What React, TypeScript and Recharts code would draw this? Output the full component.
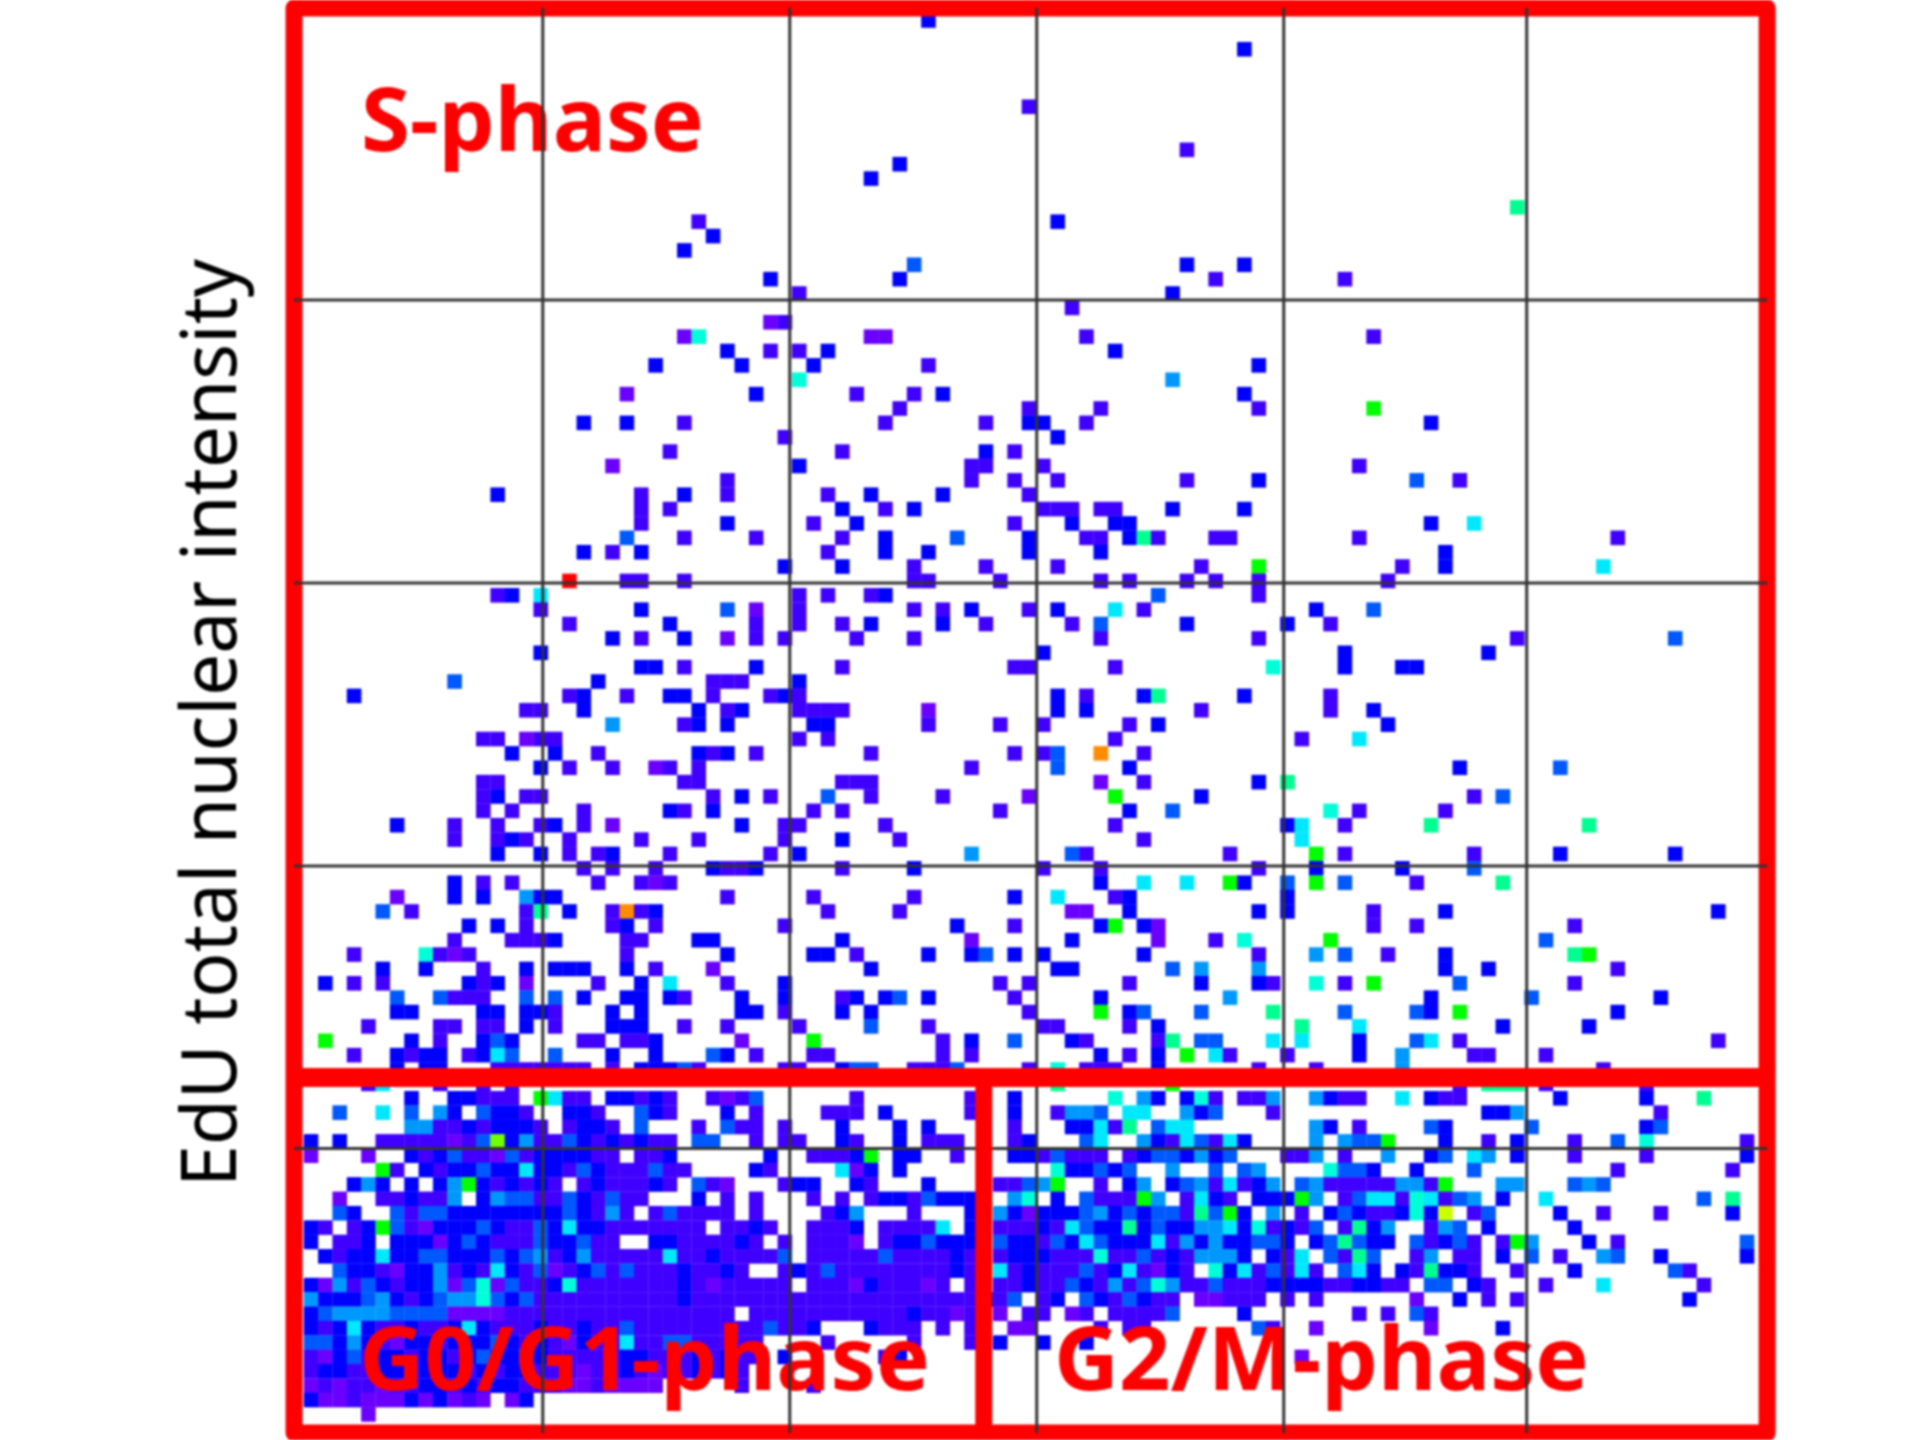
import React from 'react';
import { ScatterChart, Scatter, XAxis, YAxis, ReferenceLine, ReferenceArea } from 'recharts';

// Colour levels of the 2D histogram, from low count to high count.
const levelColors: Record<string, string> = {
  b: '#0000ff', p: '#4000ff', v: '#6a00ff', a: '#0058ff', m: '#0098ff', c: '#00e8ff',
  t: '#00ffd8', n: '#00ff90', g: '#00ff00', l: '#70ff00', y: '#ccff00', o: '#ff8c00', r: '#ff0000',
};

// Sparse rows: [row, "column+level ..."]
const upperRows: [number, string][] = [
  [0, '43b'], [2, '65b'], [6, '50p'], [9, '61p'], [10, '41b'], [11, '39b'], [13, '84n'], [14, '27p 52b'],
  [15, '28b'], [16, '26b'], [17, '42a 61b 65b'], [18, '32b 41b 63p 72p'], [19, '34p 60b'], [20, '53p'],
  [21, '32v 33p'], [22, '26v 27t 39v 40v 54p 74p'], [23, '29b 32p 34p 36b 56b'], [24, '24b 30b 35b 43p 66b'],
  [25, '34t 60m'], [26, '22v 31b 38p 42p 44b 65b'], [27, '41p 50p 55p 66p 74g'],
  [28, '19b 22b 26p 40p 47p 50b 51b 54p 78b'], [29, '33p 52b'], [30, '25p 37p 47b 49p'],
  [31, '21v 34b 46p 47p 51p 73p'], [32, '29p 46p 49p 52p 61p 66b 77a 80p'],
  [33, '13b 23p 26b 29p 36p 39b 44b 50p'], [34, '23p 25p 37b 40p 42b 51p 52p 53p 55p 56p 60b 65b'],
  [35, '23p 29b 35p 38b 49p 53b 56b 57b 78b 81c'],
  [36, '22a 26p 31p 37p 40b 45a 50b 54p 55p 57b 58n 59p 63p 64p 73p 91p'],
  [37, '19b 21p 23b 36p 40b 43b 50b 55b 79b'], [38, '33b 37b 42p 47p 52p 62p 66g 76p 79b 90c'],
  [39, '18r 22p 23p 26p 42p 43p 48p 55p 57p 61p 63p 66p 75p'], [40, '13p 14b 16c 34p 36p 39p 40b 59a 66p'],
  [41, '16p 23b 29a 31v 34p 42p 44p 46b 50p 52b 56c 58p 70b 74a'],
  [42, '18p 25b 31p 34p 37p 39b 44b 47p 53p 55a 61b 68b 71p'],
  [43, '21b 23p 26b 29v 31p 33p 38p 42p 55p 66p 84p 95a'], [44, '16b 51b 72b 82b'],
  [45, '23b 24b 26p 31b 37p 49p 50p 56p 67t 72b 76b 77b'], [46, '10a 20b 28p 29p 30p 34b'],
  [47, '3b 18p 19b 22p 25b 26b 28p 32p 33b 34p 52b 54p 58b 59n 65b 71p'],
  [48, '15p 16p 19b 27b 29p 30b 34p 35p 36p 37p 43v 52b 54b 62p 71p 74b'],
  [49, '21m 26p 27b 29b 35b 36b 43p 48p 51p 57p 59b 75b'], [50, '12p 13p 15v 16p 17p 34p 36p 56p 69p 73c'],
  [51, '14b 17b 20p 27b 28p 29b 31p 39p 49p 51p 52a 55o 58p'],
  [52, '16b 18p 21p 24v 25p 27p 46p 52a 57b 80b 87a'], [53, '12p 13p 26p 27p 37p 38p 39p 55v 58p 66b 68n'],
  [54, '12p 13b 15p 16p 28p 30b 32p 36a 39p 44p 50v 56g 62b 81p 83a'],
  [55, '12p 14p 19p 25b 26p 28b 35p 37p 48p 57b 60a 71t 73p 79p'],
  [56, '6b 10p 13p 16p 17b 19p 21v 30b 33p 34p 40p 56p 68b 69c 72p 78n 89n'],
  [57, '10p 13p 14b 15p 18p 23p 27p 33p 37b 41p 58p 69c'],
  [58, '13b 16b 18p 20p 21b 25p 32p 34b 46m 53a 54p 64p 70g 72p 81p 87b 95b'],
  [59, '19p 21p 24p 28b 29p 30p 31b 37p 42b 51p 55p 66p 70b 76b 81a'],
  [60, '10b 12p 14p 20p 23p 24v 25p 55b 58c 61c 64g 65b 68a 70g 72a 77p 83n'],
  [61, '6v 10b 12b 15m 16b 17b 29p 35p 42p 49b 52c 56p 57b 68b'],
  [62, '5a 7p 15p 16n 18b 21p 22o 23p 24b 36p 41p 53v 54v 57b 66b 68b 74p 79b 98b'],
  [63, '11b 13b 15p 21p 22b 24p 33p 45b 49p 55b 56g 58b 59v 74p 77p 88p'],
  [64, '10p 14p 15p 16p 17b 22p 23p 27b 28b 37b 46v 53b 59v 63p 65t 71g 86a'],
  [65, '3p 8t 9p 10v 11p 22p 29b 35b 36b 38p 43b 46b 47a 49b 51b 58b 66p 70m 72a 75p 79b 88n 89g'],
  [66, '5b 8b 12p 15b 17b 18b 19b 22b 24p 28v 39b 52b 53b 60a 62m 66m 79b 82b 91p'],
  [67, '1b 3p 5p 11b 12p 13b 15v 20p 23b 25c 29p 33b 48p 50p 57p 62b 66b 67p 70t 72p 74g 80a 88p'],
  [68, '6a 9a 10p 11p 12p 15a 17a 19b 22b 23b 25b 26p 30b 33b 37p 38b 40b 41a 43b 49p 55b 64m 78b 85a 94b'],
  [69, '6b 7b 12b 13b 15b 16b 17p 21b 23b 30b 31b 33p 37b 39b 50p 55g 57b 58a 62a 67n 72a 77a 78b 80g 91b'],
  [70, '4p 9p 10p 12p 13p 15b 17p 21b 22b 23b 26p 29p 34p 39a 43p 51p 52p 57p 59b 69n 73c 83b 89b'],
  [71, '1g 7b 9p 12b 13a 14b 19p 20p 22p 23p 24b 30v 35g 44p 46b 49a 53b 54p 59p 60n 62a 63a 67c 69c 73b 77a 78c 80p 98p'],
  [72, '3p 6b 7p 8b 9b 11p 12b 13c 14a 17a 21b 24b 28a 29b 31p 35p 36p 44p 46p 55b 57p 59b 61g 63c 64p 68p 73b 76m 81p 82p 86p'],
  [73, '6b 8b 9b 13p 14p 15p 16p 17p 18p 19p 21p 23b 24b 25b 26a 27p 33p 34p 37b 38a 39a 42p 43p 44p 45a 50p 52t 54p 55p 56p 59b 66p 70p 76m 90p'],
  [74, '4p 5c 9p 12p 14p 52n 60g 80p 82n 83n 84n 86p 93p'],
];

// Sparse far-right part of the lower block
const farRightRows: [number, string][] = [
  [75, '76c 78b 79p 80p 87b 93b 97n'], [76, '82b 83b 84m 94p'], [77, '78a 79b 85a 93b 94a'],
  [78, '75g 79b 82p 84b 88p 91a 93t 100p'], [79, '75m 78b 79a 81c 82m 84b 88p 93p 100b'],
  [80, '77b 81a 91p 99p'], [81, '76m 77m 78p 79g 83m 84m 88a 89m 90a'],
  [82, '75c 76p 77t 78c 79p 80a 81m 83b 86c 97a 99n'], [83, '75p 76b 77t 78b 79y 81p 82a 87b 90p 94p 99b'],
  [84, '75m 78p 79m 80a 82b 88b'], [85, '75b 77a 78p 79b 80a 81p 83p 84g 85m 89b 91p 100a'],
  [86, '77p 78m 80p 81p 83b 85a 87p 90m 91a 94b 100b'], [87, '76b 77p 78n 79b 80b 81p 84p 88b 95a 96p'],
  [88, '75p 76p 78a 79a 81b 82p 86p 90c 97p'], [89, '77v 80b 82p 84p 96b'], [90, '75p 77a 78p'],
  [91, '78v 83b'], [93, '69v'],
];

// Dense rows 75..97, columns 0..46, one character per cell
const lowerLeftRows: string[] = [
  '.......b..bbppp.gcpp.bbpbp..pvpa......p.......p',
  '..a..c.a.mb.abbp..bbp..abp...b.p....ppp.b.....p',
  '.......mmppbpbbbp.pbbp.a...p.app.p...b...b.b...',
  'b.b..pppppvpalbmppabpbpbpp.aa..p.pp..bp..b.ppp.',
  'v...v..bpbappvapbbbbpp.ppb......b..pppbg.bb..p.',
  '.....gp.bpbbabbcbbpabpppapp....bp....cvb.b.....',
  '...bmb.b.bmgbpbpbp.pbpppbp.apv...pbb..bp...b...',
  '..v..ppbppm.bmaappabpapp...b.p.p...p.p.pbbpabbb',
  '..ab..apaabbbbbbbbabpmp.papppp.p....pbm...p...b',
  'bp.pbgapvbbbabppabcbbppppppp.ppbp..pppb.ppppc.b',
  'b.ppb.bbbvbabpppabbapp..bbppppbp.p.pppv.pbbabbb',
  '.bpbbcbbaabbbabampbmppppp' + 'cppbppppa.pppppappppbp',
  '..abbpvbbmpbpcbpavpbapapppbppbp..pbpappppppppbp',
  'bvmpabpbbmvatvappbtpppppppbpvppppp.pppvbpppvp.p',
  'mbbbambpbammtabappppppppppbppppppppppppppppppppb',
  'bammmmaaaavvvvpppppppppppppppp.pppppppppppbppvp',
  'bpbcbppbppbcbpppbppbppapppppppppappb...bppp.p.p.',
  'aabmbpvbbpbbbabpbpvbppcppaappppp....p.....p...p',
  'pvbapbbpbbpbabbabpppppbbpppbpbpp.b......pb',
  'pbbppbbpbbbpbpbbpppvppbpvppbpbp',
  'vpvppvppbbpbpbbpppvvpvvvv.....p....p',
  'bvvpvvvbvbvpv.vb',
  '....v',
];

// Dense rows 75..92, columns 48..74, one character per cell
const lowerRightRows: string[] = [
  '.b......t.mb.btp.ppm..mbpp.',
  '.b..pmma.cc..mba...p.......',
  '.p...bbcpn.acc........mb.p.',
  '.pb...ac..mbpcapcb....m.maa',
  '.bbpappp.pbaabmba...ppm.p..',
  '....tbbaba..m..a.am....taab',
  'ppamg..p.bm.bampcpbm.amppppp',
  '.mt.b.apppgm.pcbp.bbbgm.pac',
  'mbvbbbambabaapnagb.m.p.babp',
  'pppbpcabbnbabbmmcbtpbpa.pnb',
  'abbpabcabbbcpmbmbbaab.banab',
  'pbbbppptppapbpmmmb.bpc.apna',
  'cpbpppapbcpvbp.tbcpapcp.acb',
  'ppbppabpmpatmppapppbbbbppbb',
  'pa.pb.abpabpp.vvppp.p.p....',
  'v.pp.vp.ppppa....b.......p.',
  '.vv....p.pp.......ap..v....',
  'b..b..b',
];

const firstDenseRow = 75;
const rightBlockFirstColumn = 48;

// Grid line positions, in histogram cells
const gridColumns = [16.14, 33.34, 50.54, 67.74, 84.66];
const gridRows = [19.45, 39.14, 58.84, 78.5];

const yAxisTitle = 'EdU total nuclear intensity';
const phaseLabels = { s: 'S-phase', g1: 'G0/G1-phase', g2: 'G2/M-phase' };

type Cell = { col: number; row: number; level: string };
const cells: Cell[] = [];
[...upperRows, ...farRightRows].forEach(([row, text]) => {
  text.split(' ').forEach((token) => {
    cells.push({ col: parseInt(token, 10), row, level: token[token.length - 1] });
  });
});
const addDense = (rows: string[], startCol: number) => {
  rows.forEach((line, i) => {
    line.split('').forEach((level, j) => {
      if (level !== '.') cells.push({ col: startCol + j, row: firstDenseRow + i, level });
    });
  });
};
addDense(lowerLeftRows, 0);
addDense(lowerRightRows, rightBlockFirstColumn);

const HistogramCell = (props: any) => {
  const { cx, cy, payload } = props;
  return <rect x={cx - 7.3} y={cy - 7.3} width={14.6} height={14.6} fill={levelColors[payload.level]} />;
};

const RED = '#ff0000';
const GRID = '#333333';
const frameLeft = -1.18;
const frameRight = 101.4;
const frameTop = -0.87;
const frameBottom = 98.3;
const frameDividerRow = 73.55;
const frameDividerCol = 46.85;
const frameProps = { stroke: RED, strokeWidth: 17, ifOverflow: 'visible' as const };
const labelFont = { fontFamily: '"Noto Sans", sans-serif', fontWeight: 700, fill: RED, fontSize: 88, lengthAdjust: 'spacingAndGlyphs' as const };
const layer: React.CSSProperties = { position: 'absolute', left: 0, top: 0 };

const sharedAxes = [
  <XAxis key="x" type="number" dataKey="col" domain={[-1.811, 101.95]} allowDataOverflow hide />,
  <YAxis key="y" type="number" dataKey="row" domain={[-1.427, 98.78]} allowDataOverflow reversed width={285} tick={false} axisLine={false} tickLine={false} />,
];
const chartSize = { width: 1920, height: 1440, margin: { left: 0, right: 145, top: 0, bottom: 0 } };

export default function App() {
  return (
    <div style={{ ...layer, width: 1920, height: 1440, background: '#fff', overflow: 'hidden', filter: 'blur(0.8px)' }}>
      <div style={layer}>
        <ScatterChart {...chartSize}>
          {sharedAxes}
          <Scatter data={cells} isAnimationActive={false} shape={HistogramCell} />
        </ScatterChart>
      </div>
      <div style={layer}>
        <ScatterChart {...chartSize}>
          {sharedAxes}
          {gridColumns.map((c) => (
            <ReferenceLine key={`gc${c}`} segment={[{ x: c, y: frameTop }, { x: c, y: frameBottom }]} stroke={GRID} strokeWidth={3} ifOverflow="visible" />
          ))}
          {gridRows.map((r) => (
            <ReferenceLine key={`gr${r}`} segment={[{ x: frameLeft, y: r }, { x: frameRight, y: r }]} stroke={GRID} strokeWidth={3} ifOverflow="visible" />
          ))}
          <ReferenceArea x1={frameLeft} x2={frameRight} y1={frameTop} y2={frameBottom} fill="none" strokeLinejoin="round" {...frameProps} />
          <ReferenceLine segment={[{ x: frameLeft, y: frameDividerRow }, { x: frameRight, y: frameDividerRow }]} {...frameProps} strokeWidth={19} />
          <ReferenceLine segment={[{ x: frameDividerCol, y: frameDividerRow }, { x: frameDividerCol, y: frameBottom }]} {...frameProps} />
          <text x={361} y={151} textLength={343} {...labelFont}>{phaseLabels.s}</text>
          <text x={359} y={1390} textLength={571} {...labelFont}>{phaseLabels.g1}</text>
          <text x={1054} y={1390} textLength={535} {...labelFont}>{phaseLabels.g2}</text>
          <text
            x={236}
            y={723}
            transform="rotate(-90 236 723)"
            textAnchor="middle"
            textLength={928}
            lengthAdjust="spacingAndGlyphs"
            fontFamily='"Noto Sans", sans-serif'
            fontSize={76}
            fill="#000"
          >
            {yAxisTitle}
          </text>
        </ScatterChart>
      </div>
    </div>
  );
}
